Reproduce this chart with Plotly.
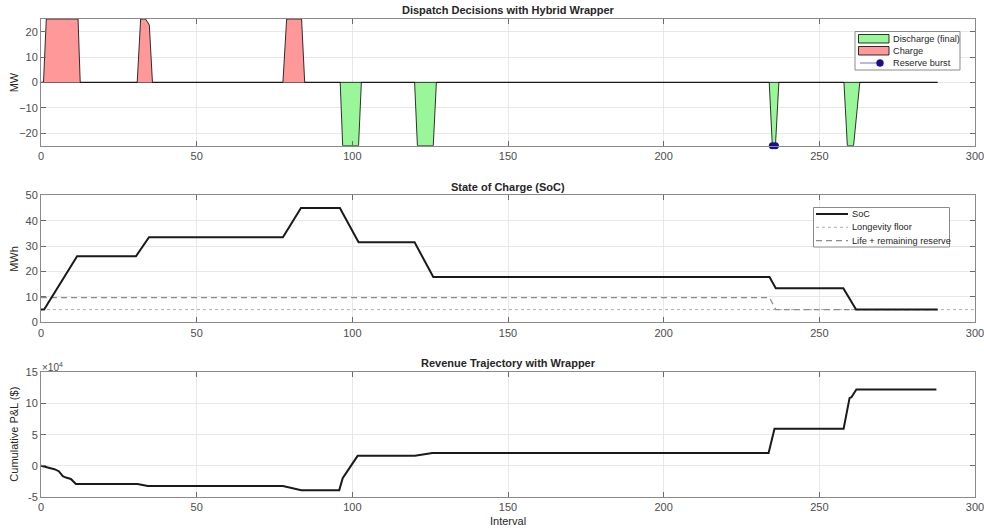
import plotly.graph_objects as go

# ---------------- data (vertices of the piecewise-linear traces) ----------------
charge_x = [0, 0.8, 1.7, 11.9, 12.6, 30.9, 32.0, 33.6, 34.8, 35.8, 77.7, 78.9, 83.7, 84.7, 288]
charge_y = [0, 0, 25, 25, 0, 0, 25, 25, 22.6, 0, 0, 25, 25, 0, 0]

discharge_x = [0, 96.1, 96.9, 102.0, 102.9, 120.0, 120.9, 126.0, 127.0,
               233.9, 234.9, 235.9, 237.0, 257.9, 259.0, 261.0, 263.0, 288]
discharge_y = [0, 0, -25, -25, 0, 0, -25, -25, 0,
               0, -25, -25, 0, 0, -25, -25, 0, 0]

burst_x = [234.9, 235.9]
burst_y = [-25, -25]

soc_x = [0, 1, 11.6, 30.5, 34.7, 77.7, 83.5, 96.0, 102.0, 120.0, 126.0, 234.0, 236.0, 257.7, 261.8, 288]
soc_y = [5, 5, 26.0, 26.0, 33.5, 33.5, 45.0, 45.0, 31.5, 31.5, 17.8, 17.8, 13.4, 13.4, 5.0, 5.0]

floor_x = [0, 300]
floor_y = [5, 5]

reserve_x = [0, 234.0, 236.0, 288]
reserve_y = [9.7, 9.7, 5.0, 5.0]

rev_x = [0, 1.6, 4.3, 5.7, 7.0, 8.0, 9.6, 11.2, 31.0, 34.3, 77.7, 83.6, 95.8, 96.9, 101.7,
         120.1, 125.7, 233.7, 235.6, 257.8, 259.7, 260.3, 261.9, 287.6]
rev_y = [0, -1600, -5400, -8600, -16600, -18800, -21000, -29000, -29000, -32500, -32500,
         -39000, -39000, -20000, 16000, 16000, 20500, 20500, 59500, 59500, 108500, 110000,
         122500, 122500]

x_ticks = [0, 50, 100, 150, 200, 250, 300]
mw_ticks = [-20, -10, 0, 10, 20]
soc_ticks = [0, 10, 20, 30, 40, 50]
rev_ticks = [-50000, 0, 50000, 100000, 150000]
rev_tick_text = ["-5", "0", "5", "10", "15"]

titles = ["Dispatch Decisions with Hybrid Wrapper", "State of Charge (SoC)", "Revenue Trajectory with Wrapper"]
legend1_labels = ["Discharge (final)", "Charge", "Reserve burst"]
legend2_labels = ["SoC", "Longevity floor", "Life + remaining reserve"]

# ---------------- styles ----------------
W, H = 984, 532
FONT = "Liberation Sans, Arial, sans-serif"
GREEN = "#99f799"
RED = "#ff9999"
BURST_LINE = "#7f6fc0"
BURST_MARK = "#1c0f86"
DARK = "#1a1a1a"
FLOOR = "#b0b0b0"
RESV = "#8c8c8c"
RESV_DASH = "6px,4px"

fig = go.Figure()

fig.add_trace(go.Scatter(x=discharge_x, y=discharge_y, mode="lines", fill="tozeroy",
                         fillcolor=GREEN, line=dict(color="black", width=0.8),
                         name=legend1_labels[0], showlegend=False, xaxis="x", yaxis="y"))
fig.add_trace(go.Scatter(x=charge_x, y=charge_y, mode="lines", fill="tozeroy",
                         fillcolor=RED, line=dict(color="black", width=0.8),
                         name=legend1_labels[1], showlegend=False, xaxis="x", yaxis="y"))
fig.add_trace(go.Scatter(x=burst_x, y=burst_y, mode="lines+markers",
                         line=dict(color=BURST_LINE, width=1),
                         marker=dict(color=BURST_MARK, size=7),
                         name=legend1_labels[2], showlegend=False, xaxis="x", yaxis="y",
                         cliponaxis=False))

fig.add_trace(go.Scatter(x=floor_x, y=floor_y, mode="lines", line=dict(color=FLOOR, width=1, dash="dot"),
                         name=legend2_labels[1], showlegend=False, xaxis="x2", yaxis="y2"))
fig.add_trace(go.Scatter(x=reserve_x, y=reserve_y, mode="lines",
                         line=dict(color=RESV, width=1.3, dash=RESV_DASH),
                         name=legend2_labels[2], showlegend=False, xaxis="x2", yaxis="y2"))
fig.add_trace(go.Scatter(x=soc_x, y=soc_y, mode="lines", line=dict(color=DARK, width=2),
                         name=legend2_labels[0], showlegend=False, xaxis="x2", yaxis="y2"))

fig.add_trace(go.Scatter(x=rev_x, y=rev_y, mode="lines", line=dict(color=DARK, width=2),
                         showlegend=False, xaxis="x3", yaxis="y3"))

xdom = [41 / W, 975 / W]
ydoms = [[1 - 145.7 / H, 1 - 19 / H], [1 - 322.3 / H, 1 - 195.3 / H], [1 - 497 / H, 1 - 372.3 / H]]

axis_common = dict(showline=True, linecolor="#8a8a8a", linewidth=1, mirror="ticks",
                   ticks="inside", ticklen=5, tickcolor="#6a6a6a", automargin=False,
                   ticklabeloverflow="allow",
                   showgrid=True, gridcolor="#e8e8e8", gridwidth=1, zeroline=False,
                   tickfont=dict(family=FONT, size=11, color="#4d4d4d"))

layout = dict(width=W, height=H, margin=dict(l=0, r=0, t=0, b=0, autoexpand=False),
              paper_bgcolor="white", plot_bgcolor="white", showlegend=False,
              font=dict(family=FONT, size=11, color="#262626"))

for suf in ["", "2", "3"]:
    layout["xaxis" + suf] = dict(axis_common, domain=xdom, range=[0, 300],
                                 tickvals=x_ticks, anchor="y" + suf)

layout["yaxis"] = dict(axis_common, domain=ydoms[0], range=[-25, 25], tickvals=mw_ticks, anchor="x")
layout["yaxis2"] = dict(axis_common, domain=ydoms[1], range=[0, 50], tickvals=soc_ticks, anchor="x2")
layout["yaxis3"] = dict(axis_common, domain=ydoms[2], range=[-50000, 150000], tickvals=rev_ticks,
                        ticktext=rev_tick_text, anchor="x3")

fig.update_layout(**layout)


def px(xp):
    return xp / W


def py(yp):
    return 1 - yp / H


# titles and axis labels
title_y = [10, 187, 363]
for t, ty in zip(titles, title_y):
    fig.add_annotation(text="<b>" + t + "</b>", x=px(508), y=py(ty), xref="paper", yref="paper",
                       showarrow=False, font=dict(family=FONT, size=11, color="#262626"),
                       xanchor="center", yanchor="middle")

ylabels = [("MW", (19 + 145.7) / 2), ("MWh", (195.3 + 322.3) / 2), ("Cumulative P&L ($)", (372.3 + 497) / 2)]
for lab, cy in ylabels:
    fig.add_annotation(text=lab, x=px(14), y=py(cy), xref="paper", yref="paper",
                       showarrow=False, textangle=-90, font=dict(family=FONT, size=11, color="#262626"),
                       xanchor="center", yanchor="middle")

fig.add_annotation(text="Interval", x=px(508), y=py(521), xref="paper", yref="paper",
                   showarrow=False, font=dict(family=FONT, size=11, color="#262626"),
                   xanchor="center", yanchor="middle")
fig.add_annotation(text="×10<sup>4</sup>", x=px(40), y=py(367), xref="paper", yref="paper",
                   showarrow=False, font=dict(family=FONT, size=10, color="#4d4d4d"),
                   xanchor="left", yanchor="middle")

# ---------------- custom legends (MATLAB-like compact boxes) ----------------
LEG_FONT = dict(family=FONT, size=9.2, color="#262626")

# legend 1
fig.add_shape(type="rect", xref="paper", yref="paper", x0=px(855), x1=px(960), y0=py(70), y1=py(31.5),
              line=dict(color="#8a8a8a", width=1), fillcolor="white", layer="above")
fig.add_shape(type="rect", xref="paper", yref="paper", x0=px(858.5), x1=px(889), y0=py(43), y1=py(34.5),
              line=dict(color="black", width=0.8), fillcolor=GREEN, layer="above")
fig.add_shape(type="rect", xref="paper", yref="paper", x0=px(858.5), x1=px(889), y0=py(55), y1=py(46.5),
              line=dict(color="black", width=0.8), fillcolor=RED, layer="above")
fig.add_shape(type="line", xref="paper", yref="paper", x0=px(860), x1=px(880), y0=py(63), y1=py(63),
              line=dict(color=BURST_LINE, width=1), layer="above")
fig.add_shape(type="circle", xref="paper", yref="paper", x0=px(876.5), x1=px(883.5), y0=py(66.5), y1=py(59.5),
              line=dict(color=BURST_MARK, width=0.5), fillcolor=BURST_MARK, layer="above")
for lab, ry in zip(legend1_labels, [39.3, 51, 63.3]):
    fig.add_annotation(text=lab, x=px(891), y=py(ry), xref="paper", yref="paper", showarrow=False,
                       xanchor="left", yanchor="middle", font=LEG_FONT)

# legend 2
fig.add_shape(type="rect", xref="paper", yref="paper", x0=px(813.5), x1=px(949.5), y0=py(247), y1=py(207.5),
              line=dict(color="#8a8a8a", width=1), fillcolor="white", layer="above")
fig.add_shape(type="line", xref="paper", yref="paper", x0=px(816), x1=px(848), y0=py(214), y1=py(214),
              line=dict(color=DARK, width=2), layer="above")
fig.add_shape(type="line", xref="paper", yref="paper", x0=px(816), x1=px(848), y0=py(227.3), y1=py(227.3),
              line=dict(color=FLOOR, width=1, dash="dot"), layer="above")
fig.add_shape(type="line", xref="paper", yref="paper", x0=px(816), x1=px(848), y0=py(240.7), y1=py(240.7),
              line=dict(color=RESV, width=1.3, dash=RESV_DASH), layer="above")
for lab, ry in zip(legend2_labels, [214, 227.3, 240.7]):
    fig.add_annotation(text=lab, x=px(850), y=py(ry), xref="paper", yref="paper", showarrow=False,
                       xanchor="left", yanchor="middle", font=LEG_FONT)

# the default page adds an 8px body margin; remove it so the figure fills the window exactly
fig.write_html("out.html", config={"displayModeBar": False},
               post_script="document.body.style.margin='0';document.body.style.overflow='hidden';")
